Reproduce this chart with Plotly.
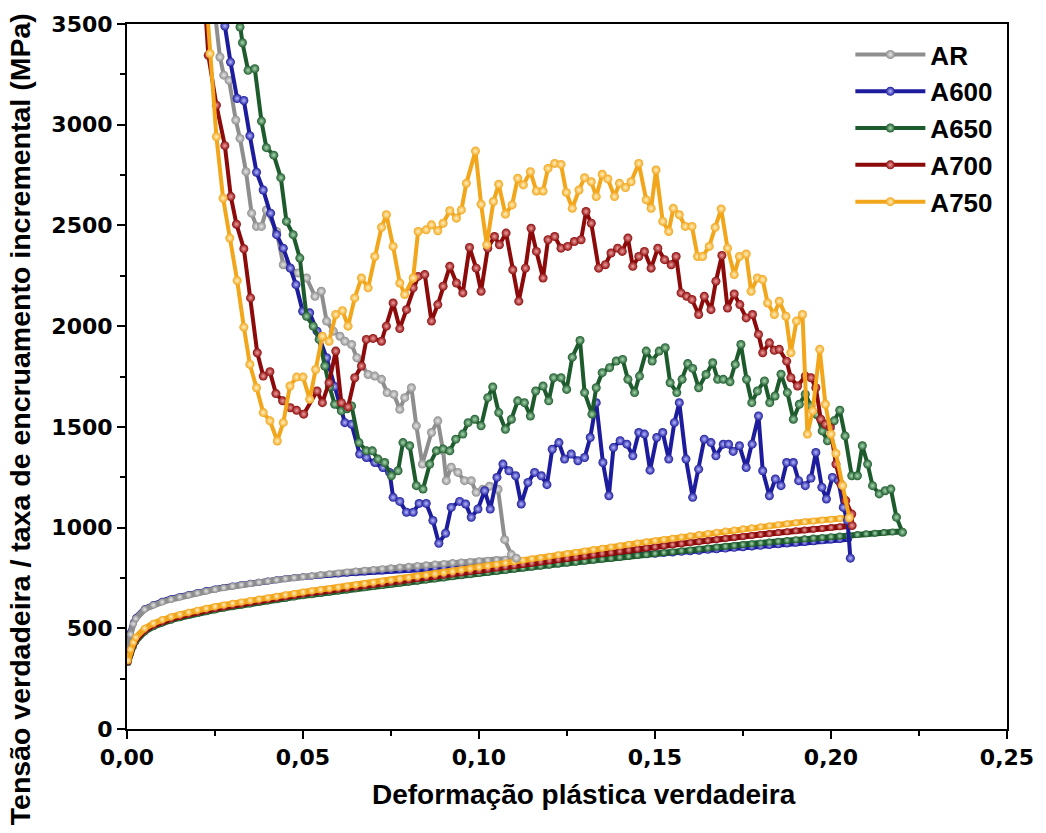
import plotly.graph_objects as go

# ---------------- data ----------------
series_names = ["AR", "A600", "A650", "A700", "A750"]
series_colors = ["#8e8e8e", "#1c1c9c", "#1d5a2c", "#8c0a0a", "#f2a61c"]
series_light = ["#e6e6e6", "#b8b8ff", "#a8d8b0", "#f0a0a0", "#fff0c0"]

x_title = "Deformação plástica verdadeira"
y_title = "Tensão verdadeira / taxa de encruamento incremental (MPa)"

# strain grid of the flow (true stress) curves
strain_flow = [
    0.0003, 0.001, 0.0018,
    0.0025, 0.005, 0.0075, 0.01,
    0.0125, 0.015, 0.0175, 0.02,
    0.0225, 0.025, 0.0275, 0.03,
    0.0325, 0.035, 0.0375, 0.04,
    0.0425, 0.045, 0.0475, 0.05,
    0.0525, 0.055, 0.0575, 0.06,
    0.0625, 0.065, 0.0675, 0.07,
    0.0725, 0.075, 0.0775, 0.08,
    0.0825, 0.085, 0.0875, 0.09,
    0.0925, 0.095, 0.0975, 0.1,
    0.1025, 0.105, 0.1075, 0.11,
    0.1125, 0.115, 0.1175, 0.12,
    0.1225, 0.125, 0.1275, 0.13,
    0.1325, 0.135, 0.1375, 0.14,
    0.1425, 0.145, 0.1475, 0.15,
    0.1525, 0.155, 0.1575, 0.16,
    0.1625, 0.165, 0.1675, 0.17,
    0.1725, 0.175, 0.1775, 0.18,
    0.1825, 0.185, 0.1875, 0.19,
    0.1925, 0.195, 0.1975, 0.2,
    0.2025, 0.205, 0.2075, 0.21,
    0.2125, 0.215, 0.2175, 0.22,
]

flow_AR = [
    360, 470, 522,
    548, 594, 615, 630,
    643, 655, 665, 675,
    684, 693, 701, 709,
    716, 722, 728, 734,
    740, 746, 751, 756,
    761, 766, 771, 775,
    780, 784, 788, 792,
    796, 800, 804, 808,
    812, 815, 819, 822,
    826, 829, 832, 835,
    838, 841, 843, 846,
]
flow_A600 = [
    365, 480, 528,
    552, 597, 618, 634,
    647, 658, 668, 678,
    687, 695, 703, 710,
    717, 723, 729, 735,
    741, 746, 751, 756,
    760, 764, 767, 770,
    773, 776, 779, 782,
    785, 788, 790, 792,
    794, 796, 798, 800,
    802, 804, 806, 808,
    811, 814, 817, 820,
    823, 826, 829, 832,
    835, 838, 841, 844,
    847, 850, 853, 856,
    859, 862, 865, 868,
    871, 874, 877, 880,
    883, 887, 890, 893,
    897, 900, 904, 907,
    911, 915, 919, 922,
    926, 930, 934, 938,
    941, 945,
]
flow_A650 = [
    330, 375, 410,
    435, 482, 508, 526,
    540, 552, 563, 573,
    582, 591, 599, 607,
    614, 621, 628, 635,
    642, 648, 655, 661,
    667, 673, 679, 685,
    690, 696, 701, 707,
    712, 718, 723, 729,
    734, 740, 745, 750,
    756, 761, 766, 772,
    777, 782, 787, 793,
    798, 803, 808, 813,
    818, 823, 828, 833,
    838, 843, 847, 852,
    857, 862, 866, 871,
    876, 880, 885, 889,
    894, 898, 903, 907,
    911, 916, 920, 924,
    928, 932, 936, 940,
    944, 948, 951, 955,
    958, 962, 965, 969,
    972, 975, 978, 980,
]
flow_A700 = [
    335, 385, 420,
    445, 490, 515, 533,
    547, 559, 570, 580,
    589, 598, 606, 614,
    621, 628, 635, 642,
    649, 656, 663, 670,
    676, 682, 688, 694,
    699, 705, 711, 716,
    722, 728, 734, 740,
    746, 752, 757, 763,
    769, 775, 781, 787,
    793, 799, 805, 811,
    817, 823, 829, 835,
    841, 847, 853, 859,
    865, 871, 876, 882,
    888, 893, 899, 904,
    910, 915, 920, 926,
    931, 936, 941, 946,
    951, 956, 961, 966,
    970, 975, 979, 984,
    988, 992, 996, 1000,
    1004, 1008,
]
flow_A750 = [
    340, 395, 430,
    455, 500, 525, 543,
    557, 569, 580, 590,
    599, 608, 616, 624,
    631, 638, 645, 652,
    659, 666, 673, 680,
    686, 692, 698, 704,
    710, 716, 722, 728,
    734, 740, 746, 752,
    758, 764, 770, 776,
    782, 789, 796, 803,
    810, 817, 824, 831,
    838, 845, 851, 858,
    865, 871, 878, 884,
    891, 897, 904, 910,
    917, 923, 929, 935,
    941, 947, 953, 959,
    965, 971, 977, 983,
    988, 994, 999, 1004,
    1009, 1014, 1019, 1024,
    1029, 1033, 1037, 1041,
    1045, 1049,
]

# incremental work-hardening rate curves
hr_AR_strain = [0.0237, 0.0264, 0.0275, 0.029, 0.0309, 0.0321, 0.0338, 0.0354, 0.0368, 0.0382,
                0.0396, 0.0425, 0.0444, 0.0463, 0.0486, 0.051, 0.0534, 0.0552, 0.0567, 0.0586,
                0.0605, 0.0619, 0.0638, 0.0653, 0.0685, 0.0704, 0.0723, 0.0739, 0.0758, 0.0775,
                0.0789, 0.0808, 0.0822, 0.0839, 0.0865, 0.0883, 0.0898, 0.0907, 0.0921, 0.094,
                0.0959, 0.0978, 0.0992, 0.1011, 0.103, 0.1054, 0.1073, 0.1092, 0.1106]
hr_AR = [3750, 3336, 3246, 3220, 3023, 2932, 2767, 2561, 2495, 2495,
         2577, 2470, 2305, 2290, 2264, 2239, 2148, 2173, 2025, 1975,
         1950, 1925, 1909, 1843, 1760, 1752, 1736, 1670, 1661, 1587,
         1645, 1694, 1505, 1315, 1472, 1530, 1381, 1233, 1300, 1274,
         1233, 1233, 1175, 1190, 1205, 1190, 940, 866, 848]

hr_A600_strain = [0.0255, 0.0278, 0.0294, 0.0313, 0.0332, 0.0349, 0.0368, 0.0387, 0.0408, 0.0425,
                  0.0444, 0.0464, 0.048, 0.0499, 0.0519, 0.054, 0.0567, 0.059, 0.0619, 0.0638,
                  0.0661, 0.068, 0.0704, 0.0727, 0.0746, 0.0756, 0.0775, 0.0794, 0.0813, 0.083,
                  0.085, 0.0869, 0.0886, 0.0905, 0.0921, 0.0945, 0.0962, 0.0978, 0.0997, 0.1016,
                  0.1032, 0.1051, 0.1068, 0.1085, 0.1104, 0.112, 0.1139, 0.1158, 0.1177, 0.1193,
                  0.1208, 0.1227, 0.1243, 0.1262, 0.1281, 0.13, 0.1316, 0.1333, 0.1352, 0.1369,
                  0.1382, 0.1401, 0.142, 0.1437, 0.1454, 0.147, 0.1486, 0.1505, 0.1522, 0.1539,
                  0.1555, 0.1569, 0.1588, 0.1607, 0.1624, 0.164, 0.1659, 0.1673, 0.1694, 0.1709,
                  0.1722, 0.174, 0.1759, 0.1776, 0.1794, 0.1806, 0.1825, 0.1842, 0.1858, 0.1874,
                  0.1893, 0.1908, 0.1927, 0.1943, 0.1957, 0.1974, 0.1987, 0.2004, 0.2021, 0.2035,
                  0.2047, 0.2055]
hr_A600 = [3750, 3490, 3311, 3130, 3120, 2945, 2764, 2676, 2561, 2454,
           2387, 2288, 2206, 2074, 2066, 1975, 1843, 1700, 1521, 1513,
           1365, 1348, 1323, 1298, 1274, 1150, 1130, 1076, 1076, 1120,
           1120, 1035, 922, 972, 1100, 1130, 1117, 1051, 1092, 1183,
           1092, 1249, 1315, 1282, 1257, 1117, 1224, 1274, 1257, 1213,
           1389, 1422, 1340, 1365, 1332, 1348, 1447, 1620, 1323, 1158,
           1397, 1431, 1414, 1356, 1472, 1464, 1285, 1447, 1472, 1340,
           1521, 1620, 1340, 1150, 1290, 1439, 1422, 1356, 1414, 1414,
           1378, 1406, 1298, 1414, 1554, 1282, 1158, 1241, 1208, 1323,
           1323, 1233, 1208, 1246, 1373, 1200, 1142, 1249, 1233, 1100,
           1035, 848]

hr_A650_strain = [0.0305, 0.0321, 0.0328, 0.0344, 0.0363, 0.0382, 0.0396, 0.0417, 0.0437, 0.0453,
                  0.0472, 0.0491, 0.051, 0.0529, 0.0546, 0.0562, 0.0575, 0.059, 0.0609, 0.0625,
                  0.0638, 0.0659, 0.068, 0.0697, 0.0713, 0.0732, 0.0751, 0.077, 0.0784, 0.0803,
                  0.0822, 0.0841, 0.086, 0.0879, 0.0898, 0.0917, 0.0934, 0.0954, 0.0969, 0.0988,
                  0.1006, 0.1025, 0.1039, 0.1056, 0.1075, 0.1092, 0.111, 0.1129, 0.1146, 0.1161,
                  0.1182, 0.1198, 0.1212, 0.1233, 0.1249, 0.1265, 0.1287, 0.13, 0.1321, 0.1333,
                  0.135, 0.1371, 0.139, 0.1408, 0.1423, 0.1442, 0.1456, 0.1475, 0.1492, 0.1512,
                  0.1529, 0.1543, 0.1562, 0.1577, 0.1593, 0.1607, 0.1624, 0.1645, 0.1664, 0.1678,
                  0.1694, 0.1713, 0.1728, 0.1744, 0.176, 0.1775, 0.1791, 0.1811, 0.1826, 0.1841,
                  0.1858, 0.1876, 0.1893, 0.191, 0.1927, 0.1943, 0.196, 0.1975, 0.199, 0.2009,
                  0.2025, 0.204, 0.2059, 0.2075, 0.2089, 0.2104, 0.2118, 0.2137, 0.2154, 0.217,
                  0.2186, 0.2203]
hr_A650 = [3700, 3485, 3407, 3270, 3278, 3018, 2886, 2849, 2737, 2520,
           2454, 2338, 2049, 2000, 1934, 1802, 1700, 1612, 1579, 1590,
           1604, 1422, 1381, 1381, 1340, 1323, 1257, 1282, 1422, 1406,
           1208, 1191, 1315, 1381, 1390, 1381, 1439, 1464, 1521, 1538,
           1505, 1645, 1698, 1571, 1488, 1538, 1629, 1620, 1554, 1678,
           1703, 1629, 1744, 1744, 1686, 1846, 1929, 1670, 1563, 1694,
           1769, 1794, 1827, 1835, 1736, 1670, 1752, 1876, 1827, 1876,
           1893, 1719, 1670, 1736, 1814, 1790, 1694, 1760, 1818, 1736,
           1736, 1724, 1810, 1909, 1736, 1620, 1678, 1728, 1620, 1653,
           1761, 1670, 1538, 1612, 1662, 1604, 1560, 1480, 1431, 1530,
           1583, 1455, 1257, 1257, 1406, 1315, 1208, 1167, 1183, 1191,
           1051, 977]

hr_A700_strain = [0.0214, 0.0231, 0.0254, 0.0278, 0.0295, 0.0311, 0.0332, 0.0351, 0.037, 0.0387,
                  0.0406, 0.0423, 0.0442, 0.0464, 0.0482, 0.0502, 0.054, 0.0555, 0.0574, 0.0593,
                  0.0609, 0.0628, 0.0647, 0.0666, 0.068, 0.0699, 0.0723, 0.0737, 0.0756, 0.0775,
                  0.0794, 0.0813, 0.0827, 0.0846, 0.0865, 0.0883, 0.0898, 0.0917, 0.0936, 0.0954,
                  0.0973, 0.0992, 0.1006, 0.1025, 0.1044, 0.1058, 0.1077, 0.1096, 0.1113, 0.1132,
                  0.1148, 0.1163, 0.1182, 0.1196, 0.1215, 0.1233, 0.1252, 0.1271, 0.129, 0.1304,
                  0.1319, 0.134, 0.1359, 0.1375, 0.1394, 0.1407, 0.1423, 0.1437, 0.1454, 0.147,
                  0.1489, 0.1508, 0.1527, 0.1546, 0.156, 0.1574, 0.159, 0.1605, 0.1624, 0.164,
                  0.1659, 0.1673, 0.169, 0.1706, 0.1725, 0.1741, 0.1759, 0.1777, 0.1794, 0.1806,
                  0.1825, 0.1839, 0.1853, 0.1874, 0.1886, 0.1905, 0.1927, 0.1943, 0.1957, 0.1971,
                  0.1984, 0.1998, 0.2014, 0.2028, 0.2042, 0.2059, 0.206]
hr_A700 = [3800, 3345, 3097, 2896, 2643, 2506, 2384, 2140, 1868, 1752,
           1774, 1665, 1629, 1595, 1582, 1563, 1678, 1620, 1719, 1876,
           1620, 1599, 1744, 1802, 1934, 1939, 1925, 2000, 2115, 1988,
           2082, 2190, 2247, 2256, 2025, 2107, 2198, 2297, 2214, 2165,
           2391, 2288, 2173, 2387, 2445, 2404, 2462, 2280, 2124, 2288,
           2486, 2371, 2239, 2429, 2445, 2387, 2396, 2420, 2429, 2569,
           2511, 2288, 2305, 2363, 2387, 2371, 2437, 2297, 2346, 2371,
           2288, 2387, 2330, 2305, 2346, 2165, 2148, 2132, 2058, 2148,
           2082, 2223, 2351, 2090, 2160, 2107, 2041, 2058, 1959, 1868,
           1917, 1880, 1885, 1826, 1744, 1703, 1752, 1744, 1694, 1538,
           1513, 1496, 1315, 1216, 1134, 1067, 1010]

hr_A750_strain = [0.0218, 0.0236, 0.0254, 0.0273, 0.0292, 0.0313, 0.0332, 0.0349, 0.0368, 0.0387,
                  0.0406, 0.0427, 0.0444, 0.0463, 0.0482, 0.05, 0.0519, 0.0536, 0.0555, 0.0574,
                  0.0593, 0.0612, 0.0628, 0.0647, 0.0666, 0.0685, 0.0704, 0.0723, 0.0737, 0.0756,
                  0.0775, 0.0789, 0.0813, 0.0827, 0.085, 0.0865, 0.0883, 0.0898, 0.0917, 0.0936,
                  0.095, 0.0964, 0.099, 0.1006, 0.1022, 0.1041, 0.1056, 0.1075, 0.1094, 0.111,
                  0.1126, 0.1146, 0.1163, 0.1182, 0.1196, 0.1215, 0.1233, 0.1248, 0.1265, 0.1284,
                  0.13, 0.1319, 0.1333, 0.135, 0.1366, 0.1385, 0.1399, 0.1416, 0.1432, 0.1454,
                  0.1475, 0.1489, 0.1503, 0.1522, 0.1539, 0.1552, 0.1569, 0.1586, 0.1605, 0.1621,
                  0.1635, 0.1654, 0.1671, 0.1688, 0.1706, 0.1725, 0.174, 0.1759, 0.1773, 0.1791,
                  0.1806, 0.182, 0.1839, 0.1853, 0.1872, 0.1886, 0.1902, 0.1919, 0.1933, 0.1948,
                  0.1968, 0.1984, 0.2, 0.2014, 0.2033, 0.2052]
hr_A750 = [3800, 3353, 2940, 2635, 2437, 2226, 1995, 1810, 1694, 1571,
           1530, 1430, 1521, 1703, 1747, 1747, 1637, 1785, 1950, 1925,
           2058, 2077, 2000, 2140, 2239, 2190, 2346, 2491, 2553, 2396,
           2214, 2157, 2239, 2470, 2478, 2503, 2473, 2511, 2573, 2536,
           2577, 2709, 2869, 2605, 2404, 2619, 2704, 2556, 2602, 2734,
           2701, 2767, 2671, 2671, 2783, 2808, 2803, 2664, 2585, 2676,
           2737, 2717, 2643, 2754, 2731, 2643, 2709, 2688, 2717, 2808,
           2627, 2585, 2775, 2520, 2470, 2585, 2553, 2495, 2495, 2346,
           2346, 2396, 2490, 2582, 2387, 2256, 2346, 2358, 2173, 2239,
           2231, 2115, 2058, 2124, 2049, 1868, 2025, 2058, 1464, 1579,
           1885, 1612, 1464, 1368, 1208, 1049]

x_ticks = [0.0, 0.05, 0.10, 0.15, 0.20, 0.25]
y_ticks = [0, 500, 1000, 1500, 2000, 2500, 3000, 3500]

flows = {"AR": flow_AR, "A600": flow_A600, "A650": flow_A650,
         "A700": flow_A700, "A750": flow_A750}
hrs = {"AR": (hr_AR_strain, hr_AR), "A600": (hr_A600_strain, hr_A600),
       "A650": (hr_A650_strain, hr_A650), "A700": (hr_A700_strain, hr_A700),
       "A750": (hr_A750_strain, hr_A750)}

# ---------------- figure ----------------
W, H = 1046, 833
ML, MR, MT, MB = 127, 36, 22, 104
PW, PH = W - ML - MR, H - MT - MB

fig = go.Figure()
idx = {n: i for i, n in enumerate(series_names)}

# flow curves (z-order chosen so overlapping bands look like the reference)
for name in ["A600", "AR", "A650", "A700", "A750"]:
    i = idx[name]
    vals = flows[name]
    fig.add_trace(go.Scatter(
        x=strain_flow[:len(vals)], y=vals, mode="lines+markers",
        line=dict(color=series_colors[i], width=6),
        marker=dict(size=7, color=series_colors[i],
                    gradient=dict(type="radial", color=series_light[i])),
        legendgroup=name, showlegend=False, hoverinfo="skip"))

# hardening-rate curves
for name in series_names:
    i = idx[name]
    xs, ys = hrs[name]
    fig.add_trace(go.Scatter(
        x=xs, y=ys, mode="lines+markers", name=name,
        line=dict(color=series_colors[i], width=4),
        marker=dict(size=9, color=series_colors[i],
                    gradient=dict(type="radial", color=series_light[i])),
        legendgroup=name, showlegend=True, legendrank=i + 1))

tick_font = dict(family="DejaVu Sans", size=22, color="black", weight="bold")

fig.update_layout(
    width=W, height=H,
    margin=dict(l=ML, r=MR, t=MT, b=MB),
    paper_bgcolor="white", plot_bgcolor="white",
    separators=",.",
    legend=dict(x=0.822, y=0.99, xanchor="left", yanchor="top",
                font=dict(family="Liberation Sans, Arial", size=26, color="black", weight="bold"),
                bgcolor="rgba(255,255,255,0)", itemwidth=70, tracegroupgap=1,
                traceorder="normal"),
    xaxis=dict(range=[0, 0.25], tickvals=x_ticks, tickformat=".2f",
               showline=True, linecolor="black", linewidth=2, mirror=True,
               ticks="outside", ticklen=8, tickwidth=2, tickcolor="black",
               minor=dict(ticks="outside", ticklen=5, tickwidth=2, tickcolor="black", dtick=0.025),
               showgrid=False, zeroline=False, tickfont=tick_font),
    yaxis=dict(range=[0, 3500], tickvals=y_ticks,
               showline=True, linecolor="black", linewidth=2, mirror=True,
               ticks="outside", ticklen=8, tickwidth=2, tickcolor="black",
               minor=dict(ticks="outside", ticklen=5, tickwidth=2, tickcolor="black", dtick=250),
               showgrid=False, zeroline=False, tickfont=tick_font),
)

# axis titles placed as in the reference (x title slightly right of centre,
# y title centred on the whole figure height)
fig.add_annotation(text=x_title, xref="paper", yref="paper",
                   x=(586 - ML) / PW, y=-(795 - MT - PH) / PH,
                   xanchor="center", yanchor="middle", showarrow=False,
                   font=dict(family="Liberation Sans, Arial", size=28, color="black", weight="bold"))
fig.add_annotation(text=y_title, xref="paper", yref="paper",
                   x=(20 - ML) / PW, y=(MT + PH - 418) / PH, textangle=-90,
                   xanchor="center", yanchor="middle", showarrow=False,
                   font=dict(family="Liberation Sans, Arial",
                             size=28.5, color="black", weight="bold"))

fig.write_html("out.html")
